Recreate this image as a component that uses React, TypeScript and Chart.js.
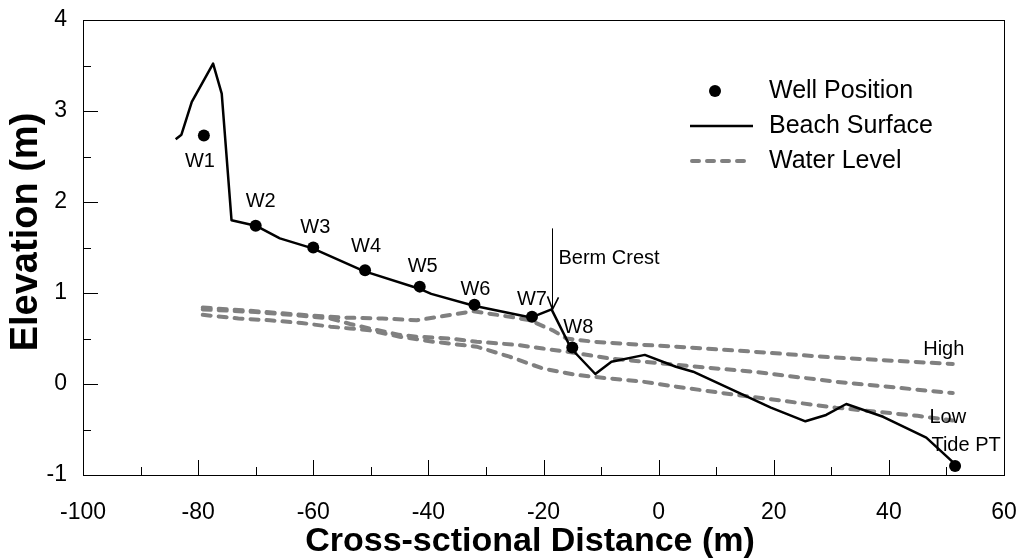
import React, { useEffect, useRef } from "react";
import { Chart, registerables } from "chart.js";

Chart.register(...registerables);

// ---------------- data ----------------
const beachX = [-83.9, -82.9, -81.1, -77.4, -75.9, -74.2, -70, -65.8, -60.1, -51.2, -41.7, -39.5, -32.1, -22.2, -18.6, -15.2, -11.0, -8.2, -2.4, 3.0, 6.0, 13.5, 19.5, 25.5, 29.1, 32.6, 39.0, 46.5, 51.5];
const beachY = [2.69, 2.74, 3.10, 3.52, 3.19, 1.80, 1.74, 1.60, 1.49, 1.24, 1.05, 0.99, 0.86, 0.73, 0.82, 0.39, 0.11, 0.245, 0.32, 0.19, 0.135, -0.085, -0.26, -0.41, -0.34, -0.22, -0.36, -0.59, -0.88];

const highX = [-79.2, -70, -62, -55, -48, -42, -38, -32.2, -25, -22.4, -18.4, -16, -11.4, -2.7, 3.1, 16.4, 30.8, 51.1];
const highY = [0.84, 0.80, 0.76, 0.73, 0.72, 0.70, 0.74, 0.80, 0.73, 0.70, 0.59, 0.50, 0.465, 0.43, 0.41, 0.355, 0.29, 0.22];

const midX = [-79.2, -70, -62, -57, -53.6, -50.2, -45, -42, -36.3, -31.6, -24.7, -20.1, -16, -8.5, -2.7, 3.1, 16.4, 30.8, 51.1];
const midY = [0.82, 0.79, 0.75, 0.72, 0.66, 0.61, 0.54, 0.52, 0.50, 0.465, 0.43, 0.39, 0.355, 0.28, 0.245, 0.21, 0.135, 0.025, -0.10];

const lowX = [-79.2, -73, -67.5, -62, -57, -53.6, -50.2, -45, -39.2, -31.6, -25.9, -20.1, -14.3, -8.5, -2.7, 3.1, 13.5, 22.2, 30.8, 45, 51.1];
const lowY = [0.76, 0.72, 0.70, 0.67, 0.63, 0.61, 0.59, 0.52, 0.465, 0.41, 0.30, 0.17, 0.10, 0.06, 0.025, -0.03, -0.12, -0.19, -0.26, -0.35, -0.40];

const wellNames = ["W1", "W2", "W3", "W4", "W5", "W6", "W7", "W8", "Tide PT"];
const wellX = [-79, -70, -60, -51, -41.5, -32, -22, -15, 51.5];
const wellY = [2.73, 1.74, 1.50, 1.25, 1.07, 0.87, 0.74, 0.40, -0.90];

const bermX = -18.6;
const bermY = 0.82;
const bermLabel = "Berm Crest";
const highLabel = "High";
const lowLabel = "Low";

const xTickValues = [-100, -80, -60, -40, -20, 0, 20, 40, 60];
const yTickValues = [-1, 0, 1, 2, 3, 4];
const legendLabels = ["Well Position", "Beach Surface", "Water Level"];
const xTitle = "Cross-sctional Distance (m)";
const yTitle = "Elevation (m)";

// ---------------- styling / placement ----------------
const FONT = "'Liberation Sans', Arial, Helvetica, sans-serif";
const GRAY = "#808080";
// pixel offsets of well labels relative to their points
const wellLabelOffsets = [
  [-4, 26], [5, -24], [2, -20], [1, -24], [3, -20], [1, -15], [0, -17], [6, -20], [11, -20],
];

const toPts = (xs: number[], ys: number[]) => xs.map((x, i) => ({ x, y: ys[i] }));

const overlay = {
  id: "overlay",
  afterDraw(chart: any) {
    const { ctx, chartArea: a, scales } = chart;
    const xs = scales.x;
    const ys = scales.y;
    ctx.save();
    // frame
    ctx.strokeStyle = "#000";
    ctx.lineWidth = 1;
    ctx.strokeRect(Math.round(a.left) + 0.5, Math.round(a.top) + 0.5, Math.round(a.right - a.left), Math.round(a.bottom - a.top));

    // inward ticks
    ctx.beginPath();
    for (let v = -100; v <= 60; v += 10) {
      const px = Math.round(xs.getPixelForValue(v)) + 0.5;
      const len = v % 20 === 0 ? 15 : 8;
      ctx.moveTo(px, a.bottom);
      ctx.lineTo(px, a.bottom - len);
    }
    for (let v = -1; v <= 4; v += 0.5) {
      const py = Math.round(ys.getPixelForValue(v)) + 0.5;
      const len = Number.isInteger(v) ? 15 : 8;
      ctx.moveTo(a.left, py);
      ctx.lineTo(a.left + len, py);
    }
    ctx.stroke();

    // well labels
    ctx.fillStyle = "#000";
    ctx.font = `20px ${FONT}`;
    ctx.textAlign = "center";
    ctx.textBaseline = "middle";
    wellNames.forEach((n, i) => {
      const px = xs.getPixelForValue(wellX[i]) + wellLabelOffsets[i][0];
      const py = ys.getPixelForValue(wellY[i]) + wellLabelOffsets[i][1];
      ctx.fillText(n, px, py);
    });

    // High / Low labels at water line ends
    const hx = xs.getPixelForValue(highX[highX.length - 1]);
    const hy = ys.getPixelForValue(highY[highY.length - 1]);
    ctx.fillText(highLabel, hx - 9, hy - 14);
    const lx = xs.getPixelForValue(lowX[lowX.length - 1]);
    const ly = ys.getPixelForValue(lowY[lowY.length - 1]);
    ctx.fillText(lowLabel, lx - 5, ly - 3);

    // Berm crest arrow
    const bx = Math.round(xs.getPixelForValue(bermX)) + 0.5;
    const by = ys.getPixelForValue(bermY);
    ctx.beginPath();
    ctx.lineWidth = 1;
    ctx.moveTo(bx, by - 81);
    ctx.lineTo(bx, by);
    ctx.stroke();
    ctx.beginPath();
    ctx.lineWidth = 1.6;
    ctx.moveTo(bx - 5, by - 13);
    ctx.lineTo(bx, by);
    ctx.lineTo(bx + 6, by - 12);
    ctx.stroke();
    ctx.textAlign = "left";
    ctx.fillText(bermLabel, bx + 6, by - 51);

    // legend
    const lgX = 690;
    const lgTextX = 769;
    const rows = [91, 126, 161];
    ctx.font = `25px ${FONT}`;
    ctx.textAlign = "left";
    ctx.textBaseline = "middle";
    legendLabels.forEach((t, i) => ctx.fillText(t, lgTextX, rows[i]));
    ctx.beginPath();
    ctx.arc(715, rows[0], 6, 0, Math.PI * 2);
    ctx.fill();
    ctx.beginPath();
    ctx.lineWidth = 2.5;
    ctx.strokeStyle = "#000";
    ctx.moveTo(lgX, rows[1]);
    ctx.lineTo(753, rows[1]);
    ctx.stroke();
    ctx.beginPath();
    ctx.strokeStyle = GRAY;
    ctx.lineWidth = 4;
    ctx.lineCap = "round";
    ctx.setLineDash([7, 8]);
    ctx.moveTo(lgX + 2, rows[2]);
    ctx.lineTo(746, rows[2]);
    ctx.stroke();
    ctx.setLineDash([]);
    ctx.lineCap = "butt";

    // axis titles
    ctx.fillStyle = "#000";
    ctx.font = `bold 34px ${FONT}`;
    ctx.textAlign = "center";
    ctx.textBaseline = "middle";
    ctx.fillText(xTitle, 530, 542);
    ctx.save();
    ctx.translate(27, 232);
    ctx.rotate(-Math.PI / 2);
    ctx.font = `bold 38px ${FONT}`;
    ctx.fillText(yTitle, 0, 0);
    ctx.restore();

    ctx.restore();
  },
};

export default function App() {
  const ref = useRef<HTMLCanvasElement | null>(null);
  useEffect(() => {
    document.body.style.margin = "0";
    if (!ref.current) return;
    const waterStyle = {
      showLine: true,
      borderColor: GRAY,
      borderWidth: 4,
      borderDash: [8, 8],
      borderCapStyle: "round",
      pointRadius: 0,
      fill: false,
      tension: 0,
    };
    const chart = new Chart(ref.current, {
      type: "scatter",
      data: {
        datasets: [
          {
            label: legendLabels[0],
            data: toPts(wellX, wellY),
            pointRadius: 6,
            pointBackgroundColor: "#000",
            pointBorderColor: "#000",
            pointBorderWidth: 0,
            showLine: false,
          },
          {
            label: legendLabels[1],
            data: toPts(beachX, beachY),
            showLine: true,
            borderColor: "#000",
            borderWidth: 2.5,
            pointRadius: 0,
            tension: 0,
            borderJoinStyle: "round",
          },
          { label: "High", data: toPts(highX, highY), ...waterStyle },
          { label: "Mid", data: toPts(midX, midY), ...waterStyle },
          { label: "Low", data: toPts(lowX, lowY), ...waterStyle },
        ],
      } as any,
      options: {
        animation: false,
        responsive: false,
        maintainAspectRatio: false,
        layout: { padding: { top: 20, right: 16, left: 0, bottom: 0 } },
        plugins: { legend: { display: false }, tooltip: { enabled: false } },
        scales: {
          x: {
            type: "linear",
            min: -100,
            max: 60,
            afterBuildTicks: (s: any) => {
              s.ticks = xTickValues.map((v) => ({ value: v }));
            },
            afterFit: (s: any) => {
              s.height = 85;
              s.paddingLeft = 0;
              s.paddingRight = 0;
            },
            grid: { display: false, drawTicks: false },
            border: { display: false },
            ticks: {
              font: { family: FONT, size: 23 },
              color: "#000",
              padding: 24,
              maxRotation: 0,
              autoSkip: false,
            },
          },
          y: {
            type: "linear",
            min: -1,
            max: 4,
            afterBuildTicks: (s: any) => {
              s.ticks = yTickValues.map((v) => ({ value: v }));
            },
            afterFit: (s: any) => {
              s.width = 83;
              s.paddingTop = 0;
              s.paddingBottom = 0;
            },
            grid: { display: false, drawTicks: false },
            border: { display: false },
            ticks: {
              font: { family: FONT, size: 23 },
              color: "#000",
              padding: 16,
              autoSkip: false,
            },
          },
        },
      } as any,
      plugins: [overlay],
    });
    return () => chart.destroy();
  }, []);
  return (
    <canvas
      ref={ref}
      width={1020}
      height={560}
      style={{ position: "absolute", left: 0, top: 0, display: "block" }}
    />
  );
}
